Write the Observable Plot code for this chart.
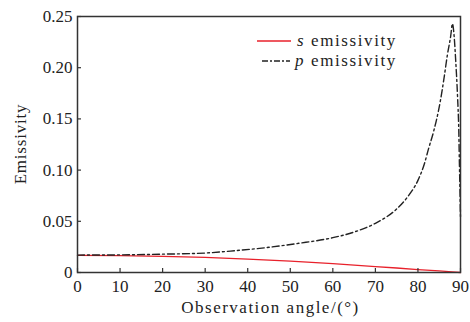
<!DOCTYPE html>
<html>
<head>
<meta charset="utf-8">
<script src="https://cdn.jsdelivr.net/npm/d3@7"></script>
<script src="https://cdn.jsdelivr.net/npm/@observablehq/plot@0.6"></script>
<style>
  html, body { margin: 0; padding: 0; background: #fff; }
  #chart { width: 470px; height: 322px; }
</style>
</head>
<body>
<div id="chart"></div>
<script>
// Data
const sAngle = [0, 10, 20, 30, 40, 50, 60, 70, 75, 80, 85, 88, 90];
const sValue = [0.0168, 0.0165, 0.0158, 0.0148, 0.0131, 0.0111, 0.0086, 0.0058, 0.0044, 0.0029, 0.0015, 0.0006, 0];

const pAngle = [0, 10, 20, 30, 37, 45, 52, 60, 65, 70, 72.5, 75, 77.5, 80, 81.5, 82.5, 83.7, 85.2, 86.1, 86.9, 87.7, 88.1, 88.5, 88.9, 89.3, 89.6, 89.75, 89.9, 90];
const pValue = [0.0170, 0.0172, 0.0179, 0.0190, 0.0213, 0.0246, 0.0285, 0.0340, 0.0395, 0.0480, 0.0540, 0.0620, 0.0735, 0.0900, 0.1060, 0.1210, 0.1380, 0.1660, 0.1890, 0.2120, 0.2310, 0.2430, 0.2310, 0.2050, 0.1725, 0.1380, 0.1050, 0.0750, 0.0540];

const xTicks = [0, 10, 20, 30, 40, 50, 60, 70, 80, 90];
const yTicks = [0, 0.05, 0.10, 0.15, 0.20, 0.25];
const yTickLabels = ["0", "0.05", "0.10", "0.15", "0.20", "0.25"];

const legendLabels = ["s", "p"];
const legendText = "emissivity";
const xLabel = "Observation angle/(\u00B0)";
const yLabel = "Emissivity";

const sData = sAngle.map((a, i) => ({angle: a, value: sValue[i]}));
const pData = pAngle.map((a, i) => ({angle: a, value: pValue[i]}));

const W = 470, H = 322;
const mL = 77, mR = 10, mT = 16, mB = 50;
const frameW = W - mL - mR, frameH = H - mT - mB;
const font = "'Liberation Serif', 'Times New Roman', serif";
const red = "#e8212b";
const dark = "#222";

const plot = Plot.plot({
  width: W,
  height: H,
  marginLeft: mL,
  marginRight: mR,
  marginTop: mT,
  marginBottom: mB,
  style: {fontFamily: font, fontSize: "17px", color: "#222", background: "#fff", overflow: "visible"},
  x: {domain: [0, 90]},
  y: {domain: [0, 0.25]},
  marks: [
    Plot.line(sData, {x: "angle", y: "value", stroke: red, strokeWidth: 1.3}),
    Plot.line(pData, {x: "angle", y: "value", stroke: dark, strokeWidth: 1.4, strokeDasharray: "7,3,2,3", curve: "monotone-x"}),
    Plot.tickX(xTicks, {x: d => d, insetTop: frameH - 4, stroke: "#333", strokeWidth: 1.2}),
    Plot.tickY(yTicks, {y: d => d, insetRight: frameW - 4, stroke: "#333", strokeWidth: 1.2}),
    Plot.axisX(xTicks, {tickSize: 0, tickPadding: 7, label: null, fontSize: 17}),
    Plot.axisY(yTicks, {tickSize: 0, tickPadding: 5, label: null, fontSize: 17, tickFormat: d => yTickLabels[yTicks.indexOf(d)]}),
    Plot.frame({stroke: "#333", strokeWidth: 1.5})
  ]
});

document.getElementById("chart").appendChild(plot);

const svg = d3.select(plot);
// axis titles
svg.append("text")
  .attr("x", mL + frameW / 2 + 2)
  .attr("y", 313)
  .attr("text-anchor", "middle")
  .attr("font-family", font)
  .attr("font-size", 17)
  .attr("letter-spacing", 1.5)
  .attr("fill", "#222")
  .text(xLabel);
svg.append("text")
  .attr("transform", `translate(26,${mT + frameH / 2}) rotate(-90)`)
  .attr("text-anchor", "middle")
  .attr("font-family", font)
  .attr("font-size", 17)
  .attr("letter-spacing", 0.8)
  .attr("fill", "#222")
  .text(yLabel);

// legend
const leg = svg.append("g").attr("font-family", font).attr("font-size", 17).attr("fill", "#222").attr("text-anchor", "start");
const rows = [
  {y: 41, stroke: red, dash: null, lx0: 257, lx1: 291, letterX: 297, textX: 311},
  {y: 61, stroke: dark, dash: "6,2,2,2", lx0: 262, lx1: 290, letterX: 295, textX: 311}
];
rows.forEach((r, i) => {
  leg.append("line").attr("x1", r.lx0).attr("x2", r.lx1).attr("y1", r.y).attr("y2", r.y)
    .attr("stroke", r.stroke).attr("stroke-width", 1.3).attr("stroke-dasharray", r.dash);
  leg.append("text").attr("x", r.letterX).attr("y", r.y + 5).attr("font-style", "italic").attr("text-anchor", "start").text(legendLabels[i]);
  leg.append("text").attr("x", r.textX).attr("y", r.y + 5).attr("letter-spacing", 1.6).attr("text-anchor", "start").text(legendText);
});
</script>
</body>
</html>
